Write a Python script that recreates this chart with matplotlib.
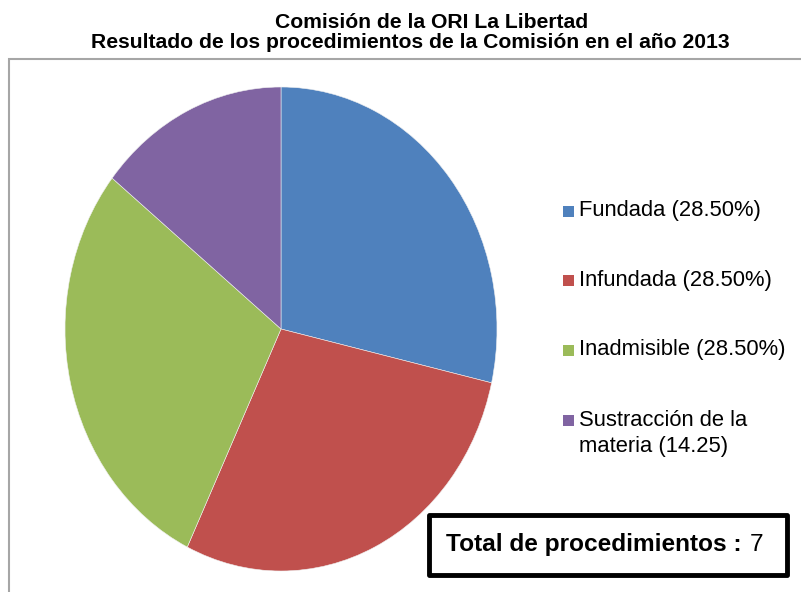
import matplotlib
matplotlib.use("Agg")
import matplotlib.pyplot as plt
from matplotlib.patches import Rectangle

plt.rcParams['font.family'] = ['Liberation Sans', 'DejaVu Sans']

categories = ["Fundada (28.50%)", "Infundada (28.50%)", "Inadmisible (28.50%)",
              "Sustracción de la\nmateria (14.25)"]
values = [28.50, 28.50, 28.50, 14.25]
colors = ["#4F81BD", "#C0504D", "#9BBB59", "#8064A2"]
title_lines = ["Comisión de la ORI La Libertad",
               "Resultado de los procedimientos de la Comisión en el año 2013"]
total_label = "Total de procedimientos :"
total_value = 7

W, H = 801, 592
fig = plt.figure(figsize=(W / 100, H / 100), dpi=100)

def fx(x):
    return x / W

def fy(y):
    return 1 - y / H

# outer gray chart border
fig.patches.append(Rectangle((fx(8.5), fy(700)), fx(900), fy(58.5) - fy(700),
                             transform=fig.transFigure, fill=False,
                             edgecolor="#A6A6A6", linewidth=1.5))

# titles
fig.text(fx(431.5), fy(28.5), title_lines[0], ha="center", va="baseline",
         fontsize=15.2, fontweight="bold")
fig.text(fx(410), fy(47.5), title_lines[1], ha="center", va="baseline",
         fontsize=15.2, fontweight="bold")

# pie (elliptical as in the reference)
cx, cy, rx, ry = 281, 329, 216, 242
ax = fig.add_axes([fx(cx - rx), fy(cy + ry), 2 * rx / W, 2 * ry / H])
ax.pie(values, colors=colors, startangle=90, counterclock=False,
       wedgeprops=dict(linewidth=0.4, edgecolor="#f0f0f0"))
ax.set_aspect("auto")
ax.set_xlim(-1, 1)
ax.set_ylim(-1, 1)
ax.axis("off")

# legend
leg_y = [211, 280, 350, 433.5]
for lab, col, y in zip(categories, colors, leg_y):
    first_y = y if "\n" not in lab else y - 13.5
    fig.patches.append(Rectangle((fx(562.5), fy(first_y + 5.5)), 11 / W, 11 / H,
                                 transform=fig.transFigure, facecolor=col,
                                 edgecolor="none"))
    fig.text(fx(579), fy(y), lab, ha="left", va="center", fontsize=15.8,
             linespacing=1.3)

# total box
fig.patches.append(Rectangle((fx(429), fy(575)), 358 / W, 60 / H,
                             transform=fig.transFigure, fill=False,
                             edgecolor="black", linewidth=3.5,
                             joinstyle="round"))
t = fig.text(fx(446), fy(545), total_label, ha="left", va="center",
             fontsize=17.6, fontweight="bold")
fig.canvas.draw()
bb = t.get_window_extent()
fig.text(bb.x1 / W + 8 / W, fy(545), str(total_value), ha="left", va="center",
         fontsize=17.6)

fig.savefig("out.png", dpi=100)
